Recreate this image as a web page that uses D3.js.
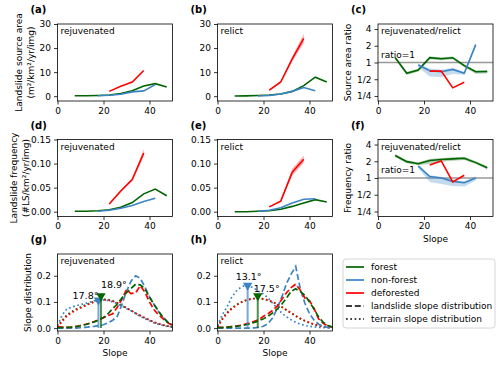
<!DOCTYPE html>
<html>
  <head>
    <style>
      body {
        margin: 0;
        background: #fff;
      }
      svg text {
        font-family: "DejaVu Sans", sans-serif;
        fill: #000;
      }
    </style>
    <script src="https://d3js.org/d3.v7.min.js"></script>
  </head>
  <body>
    <script>
      // slope bin centres (deg)
      const slopeBins = [7.5, 12.5, 17.5, 22.5, 27.5, 32.5, 37.5, 42.5, 47.5];

      // (a) source area, rejuvenated
      const srcRejForest = [0.2, 0.2, 0.3, 0.5, 1.1, 2.3, 4.2, 5.2, 3.8];
      const srcRejNonForest = [null, null, 0.2, 0.4, 0.8, 1.8, 2.2, 4.8, null];
      const srcRejDeforested = [null, null, null, 2.0, 4.1, 5.9, 10.7, null, null];

      // (b) source area, relict
      const srcRelForest = [0.1, 0.15, 0.3, 0.5, 0.9, 2.0, 4.4, 7.9, 5.9];
      const srcRelNonForest = [null, null, 0.1, 0.3, 0.9, 2.0, 3.6, 2.3, null];
      const srcRelDeforested = [null, null, null, 2.5, 5.9, 15.5, 24.0, null, null];
      const srcRelDeforestedLo = [null, null, null, 2.2, 5.5, 14.5, 22.0, null, null];
      const srcRelDeforestedHi = [null, null, null, 2.8, 6.3, 16.5, 26.0, null, null];

      // (c) source area ratio
      const srcRatioForest = [1.22, 0.64, 0.73, 1.22, 1.17, 1.22, 0.88, 0.68, 0.69];
      const srcRatioForestLo = [1.15, 0.6, 0.68, 1.14, 1.1, 1.15, 0.82, 0.63, 0.64];
      const srcRatioForestHi = [1.28, 0.68, 0.77, 1.28, 1.24, 1.28, 0.93, 0.72, 0.73];
      const srcRatioNonForest = [null, null, 0.9, 0.71, 0.68, 0.75, 0.64, 2.1, null];
      const srcRatioNonForestLo = [null, null, 0.82, 0.56, 0.55, 0.62, 0.6, 1.9, null];
      const srcRatioNonForestHi = [null, null, 0.95, 0.78, 0.75, 0.8, 0.68, 2.3, null];
      const srcRatioDeforested = [null, null, null, 0.7, 0.7, 0.35, 0.44, null, null];

      // (d) frequency, rejuvenated
      const freqRejForest = [0.001, 0.001, 0.002, 0.004, 0.009, 0.019, 0.037, 0.047, 0.033];
      const freqRejNonForest = [null, null, 0.001, 0.003, 0.007, 0.013, 0.021, 0.028, null];
      const freqRejDeforested = [null, null, null, 0.016, 0.043, 0.067, 0.122, null, null];
      const freqRejDeforestedLo = [null, null, null, 0.015, 0.041, 0.064, 0.115, null, null];
      const freqRejDeforestedHi = [null, null, null, 0.017, 0.045, 0.07, 0.13, null, null];

      // (e) frequency, relict
      const freqRelForest = [0.0, 0.0, 0.001, 0.002, 0.005, 0.011, 0.018, 0.025, 0.02];
      const freqRelNonForest = [null, null, 0.001, 0.003, 0.008, 0.018, 0.026, 0.027, null];
      const freqRelDeforested = [null, null, null, 0.01, 0.022, 0.082, 0.109, null, null];
      const freqRelDeforestedLo = [null, null, null, 0.009, 0.02, 0.075, 0.101, null, null];
      const freqRelDeforestedHi = [null, null, null, 0.011, 0.024, 0.089, 0.117, null, null];

      // (f) frequency ratio
      const freqRatioForest = [2.54, 1.97, 1.81, 2.06, 2.15, 2.21, 2.27, 1.89, 1.53];
      const freqRatioForestLo = [2.35, 1.85, 1.7, 1.8, 1.95, 2.05, 2.1, 1.78, 1.42];
      const freqRatioForestHi = [2.7, 2.08, 1.92, 2.2, 2.3, 2.35, 2.4, 2.0, 1.62];
      const freqRatioNonForest = [null, null, 1.64, 1.06, 1.0, 0.87, 0.82, 1.0, null];
      const freqRatioNonForestLo = [null, null, 1.5, 0.85, 0.78, 0.72, 0.7, 0.9, null];
      const freqRatioNonForestHi = [null, null, 1.75, 1.12, 1.05, 0.92, 0.87, 1.06, null];
      const freqRatioDeforested = [null, null, null, 1.71, 2.03, 0.85, 1.12, null, null];

      // slope distributions (g, h)
      const distX = [0, 2, 4, 6, 8, 10, 12, 14, 16, 18, 20, 22, 24, 26, 28, 30, 32, 34, 36, 38, 40, 42, 44, 46, 48, 50];

      const lsRejForest = [0.002, 0.002, 0.003, 0.004, 0.006, 0.009, 0.013, 0.018, 0.024, 0.031, 0.04, 0.055, 0.075, 0.092, 0.115, 0.135, 0.152, 0.168, 0.165, 0.15, 0.118, 0.09, 0.064, 0.04, 0.022, 0.012];
      const lsRejNonForest = [0.0, 0.0, 0.0, 0.0, 0.0, 0.002, 0.003, 0.005, 0.007, 0.01, 0.013, 0.02, 0.03, 0.045, 0.09, 0.14, 0.18, 0.2, 0.19, 0.157, 0.12, 0.09, 0.062, 0.04, 0.022, 0.012];
      const lsRejDeforested = [0.006, 0.004, 0.003, 0.004, 0.006, 0.01, 0.014, 0.019, 0.025, 0.032, 0.04, 0.048, 0.055, 0.08, 0.11, 0.147, 0.132, 0.135, 0.162, 0.138, 0.1, 0.07, 0.05, 0.035, 0.02, 0.01];
      const trRejForest = [0.004, 0.03, 0.05, 0.062, 0.072, 0.08, 0.088, 0.095, 0.102, 0.108, 0.11, 0.109, 0.104, 0.096, 0.087, 0.077, 0.067, 0.057, 0.047, 0.038, 0.03, 0.022, 0.016, 0.011, 0.007, 0.004];
      const trRejNonForest = [0.01, 0.05, 0.072, 0.08, 0.085, 0.09, 0.094, 0.099, 0.104, 0.107, 0.108, 0.105, 0.1, 0.093, 0.085, 0.075, 0.066, 0.055, 0.045, 0.036, 0.028, 0.02, 0.014, 0.01, 0.006, 0.004];
      const trRejDeforested = [0.003, 0.025, 0.045, 0.058, 0.068, 0.077, 0.085, 0.093, 0.1, 0.105, 0.108, 0.107, 0.103, 0.096, 0.087, 0.077, 0.067, 0.057, 0.048, 0.039, 0.031, 0.023, 0.017, 0.012, 0.008, 0.005];

      const lsRelForest = [0.002, 0.002, 0.003, 0.005, 0.007, 0.009, 0.012, 0.016, 0.022, 0.028, 0.036, 0.045, 0.058, 0.073, 0.092, 0.115, 0.14, 0.15, 0.14, 0.125, 0.1, 0.072, 0.042, 0.022, 0.01, 0.004];
      const lsRelNonForest = [0.0, 0.0, 0.0, 0.0, 0.0, 0.0, 0.0, 0.0, 0.001, 0.003, 0.007, 0.018, 0.039, 0.076, 0.12, 0.17, 0.206, 0.236, 0.15, 0.095, 0.055, 0.03, 0.015, 0.007, 0.003, 0.001];
      const lsRelDeforested = [0.003, 0.003, 0.004, 0.006, 0.008, 0.011, 0.015, 0.02, 0.026, 0.033, 0.045, 0.055, 0.068, 0.085, 0.11, 0.135, 0.155, 0.168, 0.145, 0.115, 0.105, 0.075, 0.035, 0.018, 0.008, 0.004];
      const trRelForest = [0.005, 0.035, 0.058, 0.075, 0.088, 0.098, 0.105, 0.11, 0.113, 0.113, 0.111, 0.106, 0.099, 0.09, 0.08, 0.068, 0.057, 0.046, 0.036, 0.027, 0.02, 0.014, 0.009, 0.006, 0.004, 0.002];
      const trRelNonForest = [0.01, 0.05, 0.078, 0.115, 0.14, 0.155, 0.163, 0.16, 0.152, 0.14, 0.13, 0.115, 0.095, 0.076, 0.057, 0.043, 0.032, 0.022, 0.015, 0.01, 0.007, 0.005, 0.003, 0.002, 0.001, 0.001];
      const trRelDeforested = [0.004, 0.032, 0.055, 0.072, 0.086, 0.097, 0.105, 0.11, 0.113, 0.114, 0.112, 0.107, 0.1, 0.091, 0.081, 0.07, 0.058, 0.047, 0.037, 0.028, 0.021, 0.015, 0.01, 0.006, 0.004, 0.002];

      // median slope markers
      const medRej = [
        { cls: "nonforest", slope: 17.8, val: 0.107, label: "17.8°" },
        { cls: "forest", slope: 18.9, val: 0.123, label: "18.9°" }
      ];
      const medRel = [
        { cls: "nonforest", slope: 13.1, val: 0.163, label: "13.1°" },
        { cls: "forest", slope: 17.5, val: 0.123, label: "17.5°" }
      ];

      const legendLabels = ["forest", "non-forest", "deforested", "landslide slope distribution", "terrain slope distribution"];
      const ratioTicks = [4, 2, 1, 0.5, 0.25];
      const ratioTickLabels = ["4", "2", "1", "1/2", "1/4"];

      const colors = { forest: "#006400", nonforest: "#3b84c4", deforested: "#ff0000" };

      const width = 500;
      const height = 367;
      const cols = [57.5, 217.5, 378];
      const rows = [24, 139.5, 254];
      const pw = 115;
      const ph = 77;

      const svg = d3
        .select("body")
        .append("svg")
        .attr("width", width)
        .attr("height", height);

      function zip(vals, lo, hi) {
        return slopeBins.map((s, i) => ({
          x: s,
          y: vals[i],
          lo: lo ? lo[i] : null,
          hi: hi ? hi[i] : null
        }));
      }

      function frame(col, row, yScale, opts) {
        const x0 = cols[col];
        const y0 = rows[row];
        const xScale = d3.scaleLinear().domain([0, 50]).range([x0, x0 + pw]);

        const gx = svg
          .append("g")
          .attr("transform", "translate(0," + (y0 + ph) + ")")
          .call(d3.axisBottom(xScale).tickValues([0, 20, 40]).tickSize(3.5).tickPadding(3));
        const yAxis = d3.axisLeft(yScale).tickSize(3.5).tickPadding(3);
        if (opts.ticks) yAxis.tickValues(opts.ticks);
        if (opts.tickFormat) yAxis.tickFormat(opts.tickFormat);
        const gy = svg
          .append("g")
          .attr("transform", "translate(" + x0 + ",0)")
          .call(yAxis);
        [gx, gy].forEach((g) => {
          g.select(".domain").remove();
          g.selectAll("line").attr("stroke", "#000").attr("stroke-width", 0.8);
          g.selectAll("text").style("font-size", "9px").attr("fill", "#000");
        });

        // panel letter
        svg
          .append("text")
          .attr("x", x0 - 27)
          .attr("y", y0 - 11)
          .style("font-size", "10px")
          .style("font-weight", "bold")
          .text(opts.letter);

        if (opts.note) {
          svg
            .append("text")
            .attr("x", x0 + 3)
            .attr("y", y0 + 10)
            .style("font-size", "9px")
            .text(opts.note);
        }

        if (opts.ylabel) {
          opts.ylabel.forEach((t, i) => {
            svg
              .append("text")
              .attr("transform", "translate(" + (x0 - opts.ylabelOff[i]) + "," + (y0 + ph / 2) + ") rotate(-90)")
              .attr("text-anchor", "middle")
              .attr("dy", "0.35em")
              .style("font-size", "9px")
              .text(t);
          });
        }

        if (opts.xlabel) {
          svg
            .append("text")
            .attr("x", x0 + pw / 2)
            .attr("y", y0 + ph + 25)
            .attr("text-anchor", "middle")
            .style("font-size", "9px")
            .text("Slope");
        }

        const clipId = "clip" + col + row;
        svg
          .append("clipPath")
          .attr("id", clipId)
          .append("rect")
          .attr("x", x0)
          .attr("y", y0)
          .attr("width", pw)
          .attr("height", ph);
        const plot = svg.append("g").attr("clip-path", "url(#" + clipId + ")");

        return { xScale, plot, x0, y0 };
      }

      function drawBorder(p) {
        svg
          .append("rect")
          .attr("x", p.x0)
          .attr("y", p.y0)
          .attr("width", pw)
          .attr("height", ph)
          .attr("fill", "none")
          .attr("stroke", "#000")
          .attr("stroke-width", 0.8);
      }

      function linePanel(col, row, yScale, series, opts) {
        const p = frame(col, row, yScale, opts);

        if (opts.ratio) {
          p.plot
            .append("line")
            .attr("x1", p.x0)
            .attr("x2", p.x0 + pw)
            .attr("y1", yScale(1))
            .attr("y2", yScale(1))
            .attr("stroke", "#999")
            .attr("stroke-width", 1.5);
          svg
            .append("text")
            .attr("x", p.x0 + 3)
            .attr("y", yScale(1) - 5)
            .style("font-size", "9px")
            .text("ratio=1");
        }

        const line = d3
          .line()
          .defined((d) => d.y != null)
          .x((d) => p.xScale(d.x))
          .y((d) => yScale(d.y));
        const area = d3
          .area()
          .defined((d) => d.lo != null)
          .x((d) => p.xScale(d.x))
          .y0((d) => yScale(d.lo))
          .y1((d) => yScale(d.hi));

        series.forEach((s) => {
          const pts = zip(s.vals, s.lo, s.hi);
          if (s.lo) {
            p.plot
              .append("path")
              .attr("d", area(pts))
              .attr("fill", colors[s.cls])
              .attr("fill-opacity", 0.3);
          }
          p.plot
            .append("path")
            .attr("d", line(pts))
            .attr("fill", "none")
            .attr("stroke", colors[s.cls])
            .attr("stroke-width", 1.6);
        });
        drawBorder(p);
      }

      function distPanel(col, row, yScale, series, medians, opts) {
        const p = frame(col, row, yScale, opts);
        const line = d3
          .line()
          .x((d, i) => p.xScale(distX[i]))
          .y((d) => yScale(d));

        series.forEach((s) => {
          p.plot
            .append("path")
            .attr("d", line(s.vals))
            .attr("fill", "none")
            .attr("stroke", colors[s.cls])
            .attr("stroke-width", 1.7)
            .attr("stroke-dasharray", s.dash ? "6,2.8" : "1.7,2.6");
        });

        medians.forEach((m, i) => {
          const mx = p.xScale(m.slope);
          const my = yScale(m.val);
          p.plot
            .append("line")
            .attr("x1", mx)
            .attr("x2", mx)
            .attr("y1", yScale(0))
            .attr("y2", my)
            .attr("stroke", colors[m.cls])
            .attr("stroke-width", 2)
            .attr("stroke-opacity", 0.7);
          p.plot
            .append("path")
            .attr("d", d3.symbol().type(d3.symbolTriangle).size(38)())
            .attr("transform", "translate(" + mx + "," + my + ") rotate(180)")
            .attr("fill", colors[m.cls]);
          const lp = opts.labelPos[i];
          svg
            .append("text")
            .attr("x", mx + lp.dx)
            .attr("y", my + lp.dy)
            .attr("text-anchor", lp.anchor)
            .style("font-size", "9.5px")
            .text(m.label);
        });
        drawBorder(p);
      }

      const ySrc = (row) => d3.scaleLinear().domain([-2, 30]).range([rows[row] + ph, rows[row]]);
      const yFreq = (row) => d3.scaleLinear().domain([-0.01, 0.15]).range([rows[row] + ph, rows[row]]);
      const yRatio = (row) =>
        d3.scaleLog().base(2).domain([Math.pow(2, -2.3), Math.pow(2, 2.3)]).range([rows[row] + ph, rows[row]]);
      const yDist = (row) => d3.scaleLinear().domain([-0.011, 0.283]).range([rows[row] + ph, rows[row]]);
      const ratioFmt = (d) => ratioTickLabels[ratioTicks.indexOf(d)];

      // row 1: source area
      linePanel(0, 0, ySrc(0), [
        { cls: "forest", vals: srcRejForest },
        { cls: "nonforest", vals: srcRejNonForest },
        { cls: "deforested", vals: srcRejDeforested }
      ], { letter: "(a)", note: "rejuvenated", ticks: [0, 10, 20, 30], ylabel: ["Landslide source area", "(m²/km²/yr/img)"], ylabelOff: [39, 27] });

      linePanel(1, 0, ySrc(0), [
        { cls: "forest", vals: srcRelForest },
        { cls: "nonforest", vals: srcRelNonForest },
        { cls: "deforested", vals: srcRelDeforested, lo: srcRelDeforestedLo, hi: srcRelDeforestedHi }
      ], { letter: "(b)", note: "relict", ticks: [0, 10, 20, 30] });

      linePanel(2, 0, yRatio(0), [
        { cls: "forest", vals: srcRatioForest, lo: srcRatioForestLo, hi: srcRatioForestHi },
        { cls: "nonforest", vals: srcRatioNonForest, lo: srcRatioNonForestLo, hi: srcRatioNonForestHi },
        { cls: "deforested", vals: srcRatioDeforested }
      ], { letter: "(c)", note: "rejuvenated/relict", ratio: true, ticks: ratioTicks, tickFormat: ratioFmt, ylabel: ["Source area ratio"], ylabelOff: [30] });

      // row 2: frequency
      linePanel(0, 1, yFreq(1), [
        { cls: "forest", vals: freqRejForest },
        { cls: "nonforest", vals: freqRejNonForest },
        { cls: "deforested", vals: freqRejDeforested, lo: freqRejDeforestedLo, hi: freqRejDeforestedHi }
      ], { letter: "(d)", note: "rejuvenated", ticks: [0, 0.05, 0.1, 0.15], tickFormat: d3.format(".2f"), ylabel: ["Landslide frequency", "(#LS/km²/yr/img)"], ylabelOff: [44, 32] });

      linePanel(1, 1, yFreq(1), [
        { cls: "forest", vals: freqRelForest },
        { cls: "nonforest", vals: freqRelNonForest },
        { cls: "deforested", vals: freqRelDeforested, lo: freqRelDeforestedLo, hi: freqRelDeforestedHi }
      ], { letter: "(e)", note: "relict", ticks: [0, 0.05, 0.1, 0.15], tickFormat: d3.format(".2f") });

      linePanel(2, 1, yRatio(1), [
        { cls: "forest", vals: freqRatioForest, lo: freqRatioForestLo, hi: freqRatioForestHi },
        { cls: "nonforest", vals: freqRatioNonForest, lo: freqRatioNonForestLo, hi: freqRatioNonForestHi },
        { cls: "deforested", vals: freqRatioDeforested }
      ], { letter: "(f)", note: "rejuvenated/relict", ratio: true, ticks: ratioTicks, tickFormat: ratioFmt, ylabel: ["Frequency ratio"], ylabelOff: [30], xlabel: true });

      // row 3: slope distributions
      distPanel(0, 2, yDist(2), [
        { cls: "forest", vals: trRejForest },
        { cls: "nonforest", vals: trRejNonForest },
        { cls: "deforested", vals: trRejDeforested },
        { cls: "nonforest", vals: lsRejNonForest, dash: true },
        { cls: "deforested", vals: lsRejDeforested, dash: true },
        { cls: "forest", vals: lsRejForest, dash: true }
      ], medRej, {
        letter: "(g)", note: "rejuvenated", ticks: [0, 0.1, 0.2], tickFormat: d3.format(".1f"),
        ylabel: ["Slope distribution"], ylabelOff: [30], xlabel: true,
        labelPos: [{ dx: 0, dy: -1, anchor: "end" }, { dx: 0, dy: -8, anchor: "start" }]
      });

      distPanel(1, 2, yDist(2), [
        { cls: "forest", vals: trRelForest },
        { cls: "nonforest", vals: trRelNonForest },
        { cls: "deforested", vals: trRelDeforested },
        { cls: "nonforest", vals: lsRelNonForest, dash: true },
        { cls: "deforested", vals: lsRelDeforested, dash: true },
        { cls: "forest", vals: lsRelForest, dash: true }
      ], medRel, {
        letter: "(h)", note: "relict", ticks: [0, 0.1, 0.2], tickFormat: d3.format(".1f"), xlabel: true,
        labelPos: [{ dx: 1, dy: -5, anchor: "middle" }, { dx: -4, dy: -4, anchor: "start" }]
      });

      // legend
      const lg = svg.append("g").attr("transform", "translate(343,259)");
      lg.append("rect")
        .attr("width", 152)
        .attr("height", 69)
        .attr("rx", 3)
        .attr("fill", "#fff")
        .attr("stroke", "#ccc")
        .attr("stroke-width", 0.8);
      const legendColors = [colors.forest, colors.nonforest, colors.deforested, "#000", "#000"];
      const legendDash = [null, null, null, "6,2.8", "1.7,2.6"];
      legendLabels.forEach((t, i) => {
        const y = 8 + i * 13;
        lg.append("line")
          .attr("x1", 3)
          .attr("x2", 21)
          .attr("y1", y)
          .attr("y2", y)
          .attr("stroke", legendColors[i])
          .attr("stroke-width", 1.7)
          .attr("stroke-dasharray", legendDash[i]);
        lg.append("text")
          .attr("x", 28)
          .attr("y", y)
          .attr("dy", "0.35em")
          .style("font-size", "9px")
          .text(t);
      });
    </script>
  </body>
</html>
